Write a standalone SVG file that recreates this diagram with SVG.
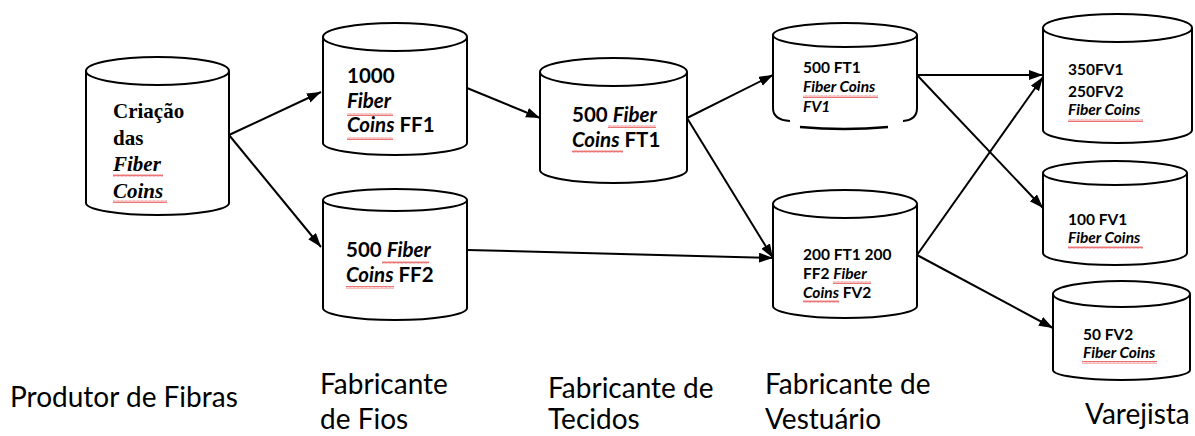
<svg xmlns="http://www.w3.org/2000/svg" width="1195" height="436" viewBox="0 0 1195 436">
<style>
.cyl{fill:#fff;stroke:#000;stroke-width:2}
.con{fill:none;stroke:#000;stroke-width:2;marker-end:url(#ah)}
.serif{font-family:"Liberation Serif","Times New Roman",serif;font-weight:bold;font-size:21px;fill:#000}
.big{font-family:Lato,"Liberation Sans",sans-serif;font-weight:bold;font-size:20.5px;fill:#000}
.small{font-family:Lato,"Liberation Sans",sans-serif;font-weight:bold;font-size:15.5px;fill:#000}
.lab{font-family:Lato,"Liberation Sans",sans-serif;font-size:28px;fill:#000}
.it{font-style:italic}
.sq{fill:url(#sq)}
</style>
<defs>
<marker id="ah" markerUnits="userSpaceOnUse" markerWidth="15" markerHeight="11" refX="14" refY="5" orient="auto">
<path d="M0,0 L14,5 L0,10 z" fill="#000"/>
</marker>
<pattern id="sq" width="4" height="3" patternUnits="userSpaceOnUse">
<path d="M0,2.5 L1,0.5 L2,2.5 L3,0.5 L4,2.5" fill="none" stroke="#e23a3a" stroke-width="0.7"/>
</pattern>
</defs>
<g id="connectors">
<path class="con" d="M229,135 L321,92"/>
<path class="con" d="M229,135 L321,247"/>
<path class="con" d="M467,88 L540,118"/>
<path class="con" d="M467,250 L773,258"/>
<path class="con" d="M687,118 L773,75"/>
<path class="con" d="M687,118 L773,258"/>
<path class="con" d="M917,75 L1043,75"/>
<path class="con" d="M917,75 L1043,208"/>
<path class="con" d="M917,255 L1043,77"/>
<path class="con" d="M917,255 L1053,328"/>
</g>
<g id="n-criacao">
<path class="cyl" d="M86,71 V203 A71.5,12 0 0 0 229,203 V71"/>
<ellipse class="cyl" cx="157.5" cy="71" rx="71.5" ry="14"/>
<text class="serif" x="113" y="118">Criação</text>
<text class="serif" x="113" y="145">das</text>
<text class="serif it" x="113" y="171">Fiber</text>
<text class="serif it" x="113" y="198">Coins</text>
<rect class="sq" x="113" y="174" width="50" height="3"/>
<rect class="sq" x="113" y="200" width="54" height="3"/>
</g>
<g id="n-ff1">
<path class="cyl" d="M323,37 V143 A72,12 0 0 0 467,143 V37"/>
<ellipse class="cyl" cx="395" cy="37" rx="72" ry="14"/>
<text class="big" x="347" y="83">1000</text>
<text class="big it" x="347" y="108">Fiber</text>
<text class="big" x="347" y="132"><tspan class="it">Coins</tspan> FF1</text>
<rect class="sq" x="347" y="113" width="46" height="3"/>
<rect class="sq" x="347" y="137" width="46" height="3"/>
</g>
<g id="n-ff2">
<path class="cyl" d="M323,200 V308 A72,12 0 0 0 467,308 V200"/>
<ellipse class="cyl" cx="395" cy="200" rx="72" ry="11"/>
<text class="big" x="346" y="257">500 <tspan class="it">Fiber</tspan></text>
<text class="big" x="346" y="282"><tspan class="it">Coins</tspan> FF2</text>
<rect class="sq" x="382" y="261" width="47" height="3"/>
<rect class="sq" x="346" y="286" width="48" height="3"/>
</g>
<g id="n-ft1">
<path class="cyl" d="M540,72 V170 A73.5,13 0 0 0 687,170 V72"/>
<ellipse class="cyl" cx="613.5" cy="72" rx="73.5" ry="14"/>
<text class="big" x="572" y="122">500 <tspan class="it">Fiber</tspan></text>
<text class="big" x="572" y="147"><tspan class="it">Coins</tspan> FT1</text>
<rect class="sq" x="608" y="125" width="48" height="3"/>
<rect class="sq" x="572" y="150" width="51" height="3"/>
</g>
<g id="n-fv1">
<path class="cyl" d="M773,35 V108 Q773,120 790,121"/>
<path class="cyl" d="M917,35 V108 Q917,120 903,121"/>
<path fill="none" stroke="#000" stroke-width="2.5" d="M800,127 Q844,131 888,127"/>
<ellipse class="cyl" cx="845" cy="35" rx="72" ry="12"/>
<text class="small" x="803" y="73">500 FT1</text>
<text class="small it" x="803" y="92">Fiber Coins</text>
<text class="small it" x="803" y="112">FV1</text>
<rect class="sq" x="803" y="95" width="75" height="3"/>
</g>
<g id="n-fv2">
<path class="cyl" d="M773,204 V306 A72,12 0 0 0 917,306 V204"/>
<ellipse class="cyl" cx="845" cy="204" rx="72" ry="14"/>
<text class="small" x="803" y="260">200 FT1 200</text>
<text class="small" x="803" y="279">FF2 <tspan class="it">Fiber</tspan></text>
<text class="small" x="803" y="298"><tspan class="it">Coins</tspan> FV2</text>
<rect class="sq" x="833" y="281" width="38" height="3"/>
<rect class="sq" x="803" y="300" width="36" height="3"/>
</g>
<g id="n-v1">
<path class="cyl" d="M1043,28 V130 A74.5,13 0 0 0 1192,130 V28"/>
<ellipse class="cyl" cx="1117.5" cy="28" rx="74.5" ry="14"/>
<text class="small" x="1068" y="75">350FV1</text>
<text class="small" x="1068" y="97">250FV2</text>
<text class="small it" x="1068" y="115">Fiber Coins</text>
<rect class="sq" x="1068" y="119" width="75" height="3"/>
</g>
<g id="n-v2">
<path class="cyl" d="M1043,173 V253 A72,12 0 0 0 1187,253 V173"/>
<ellipse class="cyl" cx="1115" cy="173" rx="72" ry="12"/>
<text class="small" x="1068" y="225">100 FV1</text>
<text class="small it" x="1068" y="243">Fiber Coins</text>
<rect class="sq" x="1068" y="246" width="75" height="3"/>
</g>
<g id="n-v3">
<path class="cyl" d="M1053,294 V370 A68.5,10 0 0 0 1190,370 V294"/>
<ellipse class="cyl" cx="1121.5" cy="294" rx="68.5" ry="13"/>
<text class="small" x="1083" y="340">50 FV2</text>
<text class="small it" x="1083" y="358">Fiber Coins</text>
<rect class="sq" x="1082" y="361" width="75" height="3"/>
</g>
<g id="labels">
<text class="lab" x="10" y="407">Produtor de Fibras</text>
<text class="lab" x="320" y="394">Fabricante</text>
<text class="lab" x="320" y="429">de Fios</text>
<text class="lab" x="548" y="398">Fabricante de</text>
<text class="lab" x="548" y="429">Tecidos</text>
<text class="lab" x="765" y="394">Fabricante de</text>
<text class="lab" x="765" y="429">Vestuário</text>
<text class="lab" x="1085" y="424">Varejista</text>
</g>
</svg>
